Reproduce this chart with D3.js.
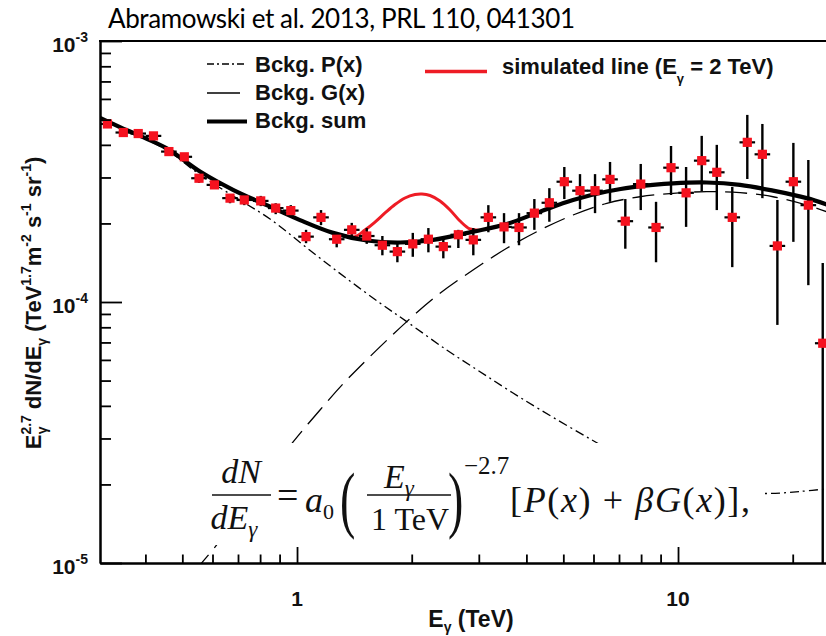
<!DOCTYPE html>
<html><head><meta charset="utf-8">
<script src="https://cdn.jsdelivr.net/npm/d3@7"></script>
<style>body{margin:0;background:#fff}svg{display:block}</style>
</head><body>
<svg id="chart" width="826" height="636"></svg>
<script>
// ---- data points (E in TeV, E^2.7 dN/dE in TeV^1.7 m^-2 s^-1 sr^-1) ----
const energy = [0.318,0.350,0.383,0.420,0.461,0.506,0.553,0.607,0.667,0.727,0.803,0.879,0.963,1.056,1.156,1.271,1.392,1.524,1.675,1.834,2.013,2.212,2.421,2.651,2.902,3.178,3.494,3.825,4.197,4.595,5.030,5.530,6.056,6.630,7.272,7.983,8.756,9.586,10.50,11.54,12.64,13.88,15.20,16.65,18.23,20.08,21.98,23.98];
const flux   = [4.81e-4,4.46e-4,4.42e-4,4.33e-4,3.77e-4,3.60e-4,2.98e-4,2.81e-4,2.50e-4,2.46e-4,2.44e-4,2.29e-4,2.24e-4,1.78e-4,2.11e-4,1.74e-4,1.89e-4,1.79e-4,1.65e-4,1.56e-4,1.67e-4,1.74e-4,1.63e-4,1.81e-4,1.73e-4,2.11e-4,1.94e-4,1.93e-4,2.19e-4,2.40e-4,2.89e-4,2.67e-4,2.67e-4,2.95e-4,2.04e-4,2.83e-4,1.93e-4,3.27e-4,2.62e-4,3.48e-4,3.14e-4,2.11e-4,4.09e-4,3.68e-4,1.64e-4,2.89e-4,2.35e-4,0.695e-4];
const fluxHi = [4.94e-4,4.56e-4,4.56e-4,4.44e-4,3.89e-4,3.72e-4,3.09e-4,2.91e-4,2.59e-4,2.55e-4,2.55e-4,2.39e-4,2.35e-4,1.89e-4,2.25e-4,1.84e-4,2.01e-4,1.92e-4,1.79e-4,1.68e-4,1.84e-4,1.92e-4,1.77e-4,1.89e-4,1.92e-4,2.35e-4,2.19e-4,2.19e-4,2.48e-4,2.73e-4,3.29e-4,3.09e-4,3.09e-4,3.44e-4,2.48e-4,3.38e-4,2.42e-4,3.96e-4,3.29e-4,4.33e-4,4.00e-4,2.76e-4,5.21e-4,4.81e-4,2.46e-4,4.07e-4,3.50e-4,1.41e-4];
const fluxLo = [4.68e-4,4.36e-4,4.33e-4,4.21e-4,3.66e-4,3.50e-4,2.86e-4,2.71e-4,2.39e-4,2.35e-4,2.33e-4,2.17e-4,2.14e-4,1.68e-4,1.97e-4,1.62e-4,1.77e-4,1.67e-4,1.51e-4,1.42e-4,1.49e-4,1.55e-4,1.47e-4,1.61e-4,1.51e-4,1.85e-4,1.68e-4,1.65e-4,1.89e-4,2.03e-4,2.48e-4,2.27e-4,2.19e-4,2.42e-4,1.60e-4,2.25e-4,1.42e-4,2.57e-4,1.94e-4,2.66e-4,2.25e-4,1.36e-4,2.96e-4,2.50e-4,0.817e-4,1.70e-4,1.16e-4,0.05e-4];

// ---- model curves ----
const sumE = [0.3041,0.3430,0.3871,0.4550,0.5564,0.6792,0.8325,1.018,1.243,1.524,1.864,2.275,2.897,3.551,4.344,5.302,6.501,7.948,9.703,11.89,14.55,17.76,21.77,25.06];
const sumV = [5.07e-4,4.68e-4,4.33e-4,3.88e-4,3.16e-4,2.69e-4,2.35e-4,2.06e-4,1.84e-4,1.72e-4,1.69e-4,1.73e-4,1.86e-4,1.99e-4,2.22e-4,2.46e-4,2.65e-4,2.78e-4,2.85e-4,2.87e-4,2.81e-4,2.67e-4,2.50e-4,2.34e-4];
const pE = [0.3041,0.3712,0.4550,0.5564,0.6792,0.8495,1.104,1.350,1.651,1.941,2.471,2.991,3.551,4.344,5.994,7.948,10.75,14.55,17.26,20.90,25.06];
const pV = [5.05e-4,4.42e-4,3.82e-4,3.07e-4,2.55e-4,2.08e-4,1.54e-4,1.23e-4,0.991e-4,0.841e-4,0.655e-4,0.546e-4,0.464e-4,0.387e-4,0.294e-4,0.233e-4,0.199e-4,0.187e-4,0.1846e-4,0.188e-4,0.193e-4];
const gE = [0.5398,0.5564,0.6090,0.7526,0.8495,0.9779,1.149,1.350,1.941,2.373,2.897,3.551,4.344,5.302,6.501,7.948,9.703,11.89,14.55,17.76,21.77,25.06];
const gV = [0.0924e-4,0.0982e-4,0.1151e-4,0.1743e-4,0.2212e-4,0.2916e-4,0.3857e-4,0.5025e-4,0.841e-4,1.080e-4,1.326e-4,1.606e-4,1.887e-4,2.154e-4,2.388e-4,2.531e-4,2.609e-4,2.647e-4,2.624e-4,2.531e-4,2.352e-4,2.193e-4];
const lineE = [1.337,1.420,1.508,1.602,1.702,1.808,1.920,2.040,2.128,2.234,2.373,2.521,2.678,2.845,3.022];
const lineV = [1.79e-4,1.78e-4,1.887e-4,2.025e-4,2.193e-4,2.363e-4,2.503e-4,2.581e-4,2.593e-4,2.559e-4,2.438e-4,2.252e-4,2.043e-4,1.904e-4,1.884e-4];

// ---- ticks ----
const xMajorTicks = [1, 10];
const xTickLabels = ["1", "10"];
const xMinorTicks = [0.4,0.5,0.6,0.7,0.8,0.9,2,3,4,5,6,7,8,9,20];
const yMajorTicks = [1e-5, 1e-4, 1e-3];
const yTickExponents = ["-5", "-4", "-3"];
const yMinorTicks = [2e-5,3e-5,4e-5,5e-5,6e-5,7e-5,8e-5,9e-5,2e-4,3e-4,4e-4,5e-4,6e-4,7e-4,8e-4,9e-4];

const svg = d3.select("#chart");
const SANS = "'Liberation Sans', Arial, Helvetica, sans-serif";
const SERIF = "'Liberation Serif', 'Times New Roman', serif";

const x = d3.scaleLog().domain([0.304, 30]).range([100, 859.8]);
const y = d3.scaleLog().domain([1e-5, 1e-3]).range([563, 41]);

svg.append("defs").append("clipPath").attr("id", "plot")
  .append("rect").attr("x", 100).attr("y", 41).attr("width", 760).attr("height", 522);

const plot = svg.append("g").attr("clip-path", "url(#plot)");
const line = d3.line().x(d => x(d[0])).y(d => y(d[1])).curve(d3.curveCatmullRom.alpha(0.5));

plot.append("path").datum(d3.zip(pE, pV)).attr("d", line)
  .attr("fill", "none").attr("stroke", "#000").attr("stroke-width", 1.3).attr("stroke-dasharray", "9,4,2,4");
plot.append("path").datum(d3.zip(gE, gV)).attr("d", line)
  .attr("fill", "none").attr("stroke", "#000").attr("stroke-width", 1.3).attr("stroke-dasharray", "22,9");
plot.append("path").datum(d3.zip(lineE, lineV)).attr("d", line)
  .attr("fill", "none").attr("stroke", "#ee1c25").attr("stroke-width", 3);
plot.append("path").datum(d3.zip(sumE, sumV)).attr("d", line)
  .attr("fill", "none").attr("stroke", "#000").attr("stroke-width", 4.2);

// data points
const pts = energy.map((e, i) => ({e, v: flux[i], lo: fluxLo[i], hi: fluxHi[i]}));
const gp = plot.append("g");
gp.selectAll("line.v").data(pts).join("line").attr("class", "v")
  .attr("x1", d => x(d.e)).attr("x2", d => x(d.e))
  .attr("y1", d => y(d.hi)).attr("y2", d => y(d.lo))
  .attr("stroke", "#000").attr("stroke-width", 2.4);
gp.selectAll("line.h").data(pts).join("line").attr("class", "h")
  .attr("x1", d => x(d.e) - 7.8).attr("x2", d => x(d.e) + 7.8)
  .attr("y1", d => y(d.v)).attr("y2", d => y(d.v))
  .attr("stroke", "#000").attr("stroke-width", 2.2);
gp.selectAll("rect").data(pts).join("rect")
  .attr("x", d => x(d.e) - 4.6).attr("y", d => y(d.v) - 4.6)
  .attr("width", 9.2).attr("height", 9.2).attr("fill", "#f5121f");

// formula (white box covering curves)
const fm = svg.append("g");
fm.append("rect").attr("x", 200).attr("y", 443).attr("width", 565).attr("height", 102).attr("fill", "#fff");
const ft = (txt, xx, yy, size, style, anchor) => fm.append("text").attr("x", xx).attr("y", yy)
  .attr("font-family", SERIF).attr("font-size", size).attr("font-style", style || "normal")
  .attr("text-anchor", anchor || "start").attr("fill", "#111").text(txt);
ft("dN", 241, 483, 34, "italic", "middle");
fm.append("line").attr("x1", 212).attr("x2", 271).attr("y1", 495).attr("y2", 495).attr("stroke", "#111").attr("stroke-width", 1.5);
const den = ft("dE", 234, 529, 34, "italic", "middle");
den.append("tspan").attr("font-size", 23).attr("dy", 8).text("γ");
ft("=", 277, 508, 38);
const a0 = ft("a", 305, 512, 36, "italic");
a0.append("tspan").attr("font-size", 22).attr("font-style", "normal").attr("dy", 7).text("0");
fm.append("text").attr("x", 340).attr("y", 0).attr("font-family", SERIF).attr("font-size", 46)
  .attr("transform", "translate(0,524) scale(1,1.6)").attr("fill", "#111").text("(");
const num = ft("E", 399, 488, 34, "italic", "middle");
num.append("tspan").attr("font-size", 23).attr("dy", 8).text("γ");
fm.append("line").attr("x1", 367).attr("x2", 451).attr("y1", 495).attr("y2", 495).attr("stroke", "#111").attr("stroke-width", 1.5);
ft("1 TeV", 410, 530, 32, "normal", "middle");
fm.append("text").attr("x", 448).attr("y", 0).attr("font-family", SERIF).attr("font-size", 46)
  .attr("transform", "translate(0,524) scale(1,1.6)").attr("fill", "#111").text(")");
ft("−2.7", 464, 474, 25);
const br = fm.append("text").attr("x", 510).attr("y", 512).attr("font-family", SERIF).attr("font-size", 36).attr("fill", "#111")
  .attr("textLength", 240).attr("lengthAdjust", "spacing");
br.append("tspan").text("[");
br.append("tspan").attr("font-style", "italic").text("P");
br.append("tspan").text("(");
br.append("tspan").attr("font-style", "italic").text("x");
br.append("tspan").text(") + ");
br.append("tspan").attr("font-style", "italic").text("βG");
br.append("tspan").text("(");
br.append("tspan").attr("font-style", "italic").text("x");
br.append("tspan").text(")],");

// axes
const styleAxis = g => { g.select(".domain").attr("stroke", "#000").attr("stroke-width", 2);
  g.selectAll(".tick line").attr("stroke", "#000").attr("stroke-width", 1.8);
  g.selectAll(".tick text").remove(); };
svg.append("g").attr("transform", "translate(0,563)")
  .call(d3.axisBottom(x).tickValues(xMinorTicks).tickSizeInner(-8.5).tickSizeOuter(0).tickFormat("")).call(styleAxis);
svg.append("g").attr("transform", "translate(0,563)")
  .call(d3.axisBottom(x).tickValues(xMajorTicks).tickSizeInner(-16).tickSizeOuter(0).tickFormat("")).call(styleAxis);
svg.append("g").attr("transform", "translate(100,0)")
  .call(d3.axisLeft(y).tickValues(yMinorTicks).tickSizeInner(-11).tickSizeOuter(0).tickFormat("")).call(styleAxis);
svg.append("g").attr("transform", "translate(100,0)")
  .call(d3.axisLeft(y).tickValues(yMajorTicks).tickSizeInner(-22).tickSizeOuter(0).tickFormat("")).call(styleAxis);
svg.append("line").attr("x1", 99).attr("x2", 860).attr("y1", 41).attr("y2", 41).attr("stroke", "#000").attr("stroke-width", 2);

// tick labels
xMajorTicks.forEach((t, i) => svg.append("text").attr("x", x(t)).attr("y", 606)
  .attr("text-anchor", "middle").attr("font-family", SANS).attr("font-weight", "bold").attr("font-size", 21)
  .attr("fill", "#111").text(xTickLabels[i]));
yMajorTicks.forEach((t, i) => {
  const tx = svg.append("text").attr("x", 88).attr("y", y(t) + 10.5).attr("text-anchor", "end")
    .attr("font-family", SANS).attr("font-weight", "bold").attr("font-size", 21).attr("fill", "#111");
  tx.append("tspan").text("10");
  tx.append("tspan").attr("font-size", 14).attr("dy", -10).text(yTickExponents[i]);
});

// axis titles
const xt = svg.append("text").attr("x", 471).attr("y", 627).attr("text-anchor", "middle")
  .attr("font-family", SANS).attr("font-weight", "bold").attr("font-size", 23).attr("fill", "#111");
xt.append("tspan").text("E");
xt.append("tspan").attr("font-size", 14).attr("dy", 5).text("γ");
xt.append("tspan").attr("dy", -5).text(" (TeV)");

const yt = svg.append("text").attr("transform", "translate(41,303) rotate(-90)").attr("text-anchor", "middle")
  .attr("font-family", SANS).attr("font-weight", "bold").attr("font-size", 22).attr("fill", "#111");
yt.append("tspan").text("E");
yt.append("tspan").attr("font-size", 14).attr("dy", -10).text("2.7");
yt.append("tspan").attr("font-size", 14).attr("dx", -19).attr("dy", 16).text("γ");
yt.append("tspan").attr("dx", 11).attr("dy", -6).text(" dN/dE");
yt.append("tspan").attr("font-size", 14).attr("dy", 6).text("γ");
yt.append("tspan").attr("dy", -6).text(" (TeV");
yt.append("tspan").attr("font-size", 14).attr("dy", -10).text("1.7");
yt.append("tspan").attr("dy", 10).text("m");
yt.append("tspan").attr("font-size", 14).attr("dy", -10).text("-2");
yt.append("tspan").attr("dy", 10).text(" s");
yt.append("tspan").attr("font-size", 14).attr("dy", -10).text("-1");
yt.append("tspan").attr("dy", 10).text(" sr");
yt.append("tspan").attr("font-size", 14).attr("dy", -10).text("-1");
yt.append("tspan").attr("dy", 10).text(")");

// title
svg.append("text").attr("x", 108).attr("y", 28).attr("font-family", "Lato, 'Open Sans', sans-serif")
  .attr("font-size", 26).attr("fill", "#000").attr("textLength", 467).attr("lengthAdjust", "spacing")
  .text("Abramowski et al. 2013, PRL 110, 041301");

// legend
const leg = svg.append("g");
leg.append("line").attr("x1", 207).attr("x2", 247).attr("y1", 64).attr("y2", 64)
  .attr("stroke", "#000").attr("stroke-width", 1.5).attr("stroke-dasharray", "7,3,2,3");
leg.append("line").attr("x1", 207).attr("x2", 240).attr("y1", 93).attr("y2", 93)
  .attr("stroke", "#000").attr("stroke-width", 1.4);
leg.append("line").attr("x1", 207).attr("x2", 247).attr("y1", 121.5).attr("y2", 121.5)
  .attr("stroke", "#000").attr("stroke-width", 4.2);
leg.append("line").attr("x1", 425).attr("x2", 487).attr("y1", 71.5).attr("y2", 71.5)
  .attr("stroke", "#ee1c25").attr("stroke-width", 3.5);
const lt = (txt, xx, yy) => leg.append("text").attr("x", xx).attr("y", yy).attr("font-family", SANS)
  .attr("font-weight", "bold").attr("font-size", 22).attr("fill", "#111").text(txt);
lt("Bckg. P(x)", 255, 72);
lt("Bckg. G(x)", 255, 100);
lt("Bckg. sum", 255, 128);
const st = lt("simulated line (E", 502, 74);
st.append("tspan").attr("font-size", 13).attr("dy", 9).text("γ");
st.append("tspan").attr("dy", -9).text(" = 2 TeV)");
</script>
</body></html>
